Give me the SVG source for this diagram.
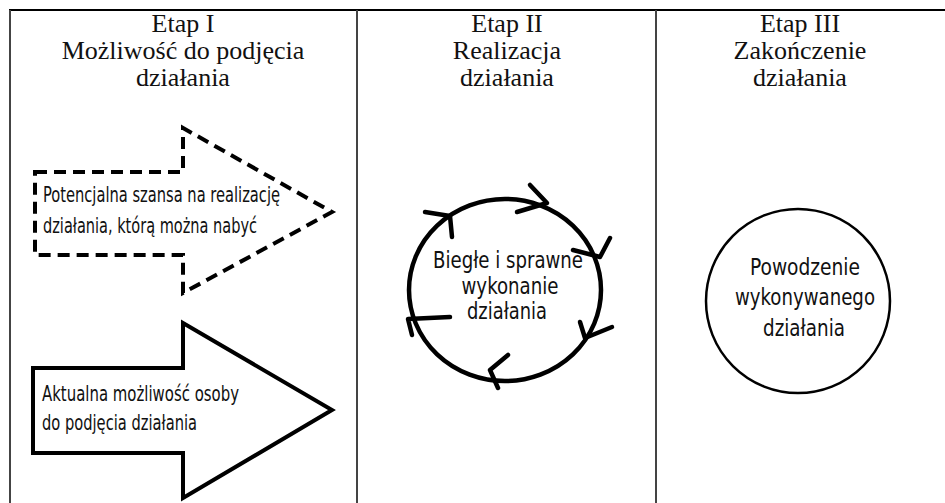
<svg xmlns="http://www.w3.org/2000/svg" width="945" height="503" viewBox="0 0 945 503">
<style>
.hdr{font-family:"Liberation Serif","Times New Roman",serif;font-size:26px;fill:#111;text-anchor:middle}
.lbl{font-family:"Liberation Sans Narrow","DejaVu Sans Condensed","Open Sans",sans-serif;font-size:21px;fill:#111}
.big{font-size:23px}
.ctr{text-anchor:middle}
.grid{stroke:#444;stroke-width:2;fill:none}
.chev{fill:none;stroke:#000;stroke-width:4.5;stroke-linecap:round;stroke-linejoin:round}
</style>
<rect width="945" height="503" fill="#fff"/>
<g id="table">
<line x1="9" y1="10" x2="945" y2="10" stroke="#000" stroke-width="2"/>
<line class="grid" x1="10" y1="10" x2="10" y2="503"/>
<line class="grid" x1="357" y1="10" x2="357" y2="503"/>
<line class="grid" x1="656" y1="10" x2="656" y2="503"/>
</g>
<g id="header1">
<text class="hdr" x="183" y="32">Etap I</text>
<text class="hdr" x="183" y="59">Możliwość do podjęcia</text>
<text class="hdr" x="183" y="86">działania</text>
</g>
<g id="header2">
<text class="hdr" x="507" y="32">Etap II</text>
<text class="hdr" x="507" y="59">Realizacja</text>
<text class="hdr" x="507" y="86">działania</text>
</g>
<g id="header3">
<text class="hdr" x="800" y="32">Etap III</text>
<text class="hdr" x="800" y="59">Zakończenie</text>
<text class="hdr" x="800" y="86">działania</text>
</g>
<g id="potential">
<path d="M35,172 H183 V128 L332,212 L183,293 V255 H35 Z" fill="#fff" stroke="#000" stroke-width="4" stroke-dasharray="12,7"/>
<text class="lbl" x="43" y="202" textLength="237" lengthAdjust="spacingAndGlyphs">Potencjalna szansa na realizację</text>
<text class="lbl" x="43" y="233" textLength="214" lengthAdjust="spacingAndGlyphs">działania, którą można nabyć</text>
</g>
<g id="actual">
<path d="M33,368 H183 V323 L332,410 L183,498 V453 H33 Z" fill="#fff" stroke="#000" stroke-width="4"/>
<text class="lbl" x="42" y="401" textLength="197" lengthAdjust="spacingAndGlyphs">Aktualna możliwość osoby</text>
<text class="lbl" x="42" y="430" textLength="155" lengthAdjust="spacingAndGlyphs">do podjęcia działania</text>
</g>
<g id="cycle">
<ellipse cx="505" cy="290" rx="96" ry="91" fill="none" stroke="#000" stroke-width="4.5"/>
<text class="lbl big ctr" x="508" y="268" textLength="150" lengthAdjust="spacingAndGlyphs">Biegłe i sprawne</text>
<text class="lbl big ctr" x="510" y="294" textLength="97" lengthAdjust="spacingAndGlyphs">wykonanie</text>
<text class="lbl big ctr" x="507" y="319" textLength="80" lengthAdjust="spacingAndGlyphs">działania</text>
</g>
<g id="connectors">
<polyline class="chev" points="425,212 450,216 452,237"/>
<polyline class="chev" points="530,185 547,203 517,212"/>
<polyline class="chev" points="610,238 600,257 573,250"/>
<polyline class="chev" points="580,322 585,338 612,327"/>
<polyline class="chev" points="508,355 490,370 498,388"/>
<polyline class="chev" points="450,317 408,319 412,335"/>
</g>
<g id="success">
<circle cx="798" cy="301" r="92" fill="#fff" stroke="#000" stroke-width="2.5"/>
<text class="lbl big ctr" x="805" y="275" textLength="110" lengthAdjust="spacingAndGlyphs">Powodzenie</text>
<text class="lbl big ctr" x="805" y="305" textLength="140" lengthAdjust="spacingAndGlyphs">wykonywanego</text>
<text class="lbl big ctr" x="804" y="336" textLength="82" lengthAdjust="spacingAndGlyphs">działania</text>
</g>
</svg>
